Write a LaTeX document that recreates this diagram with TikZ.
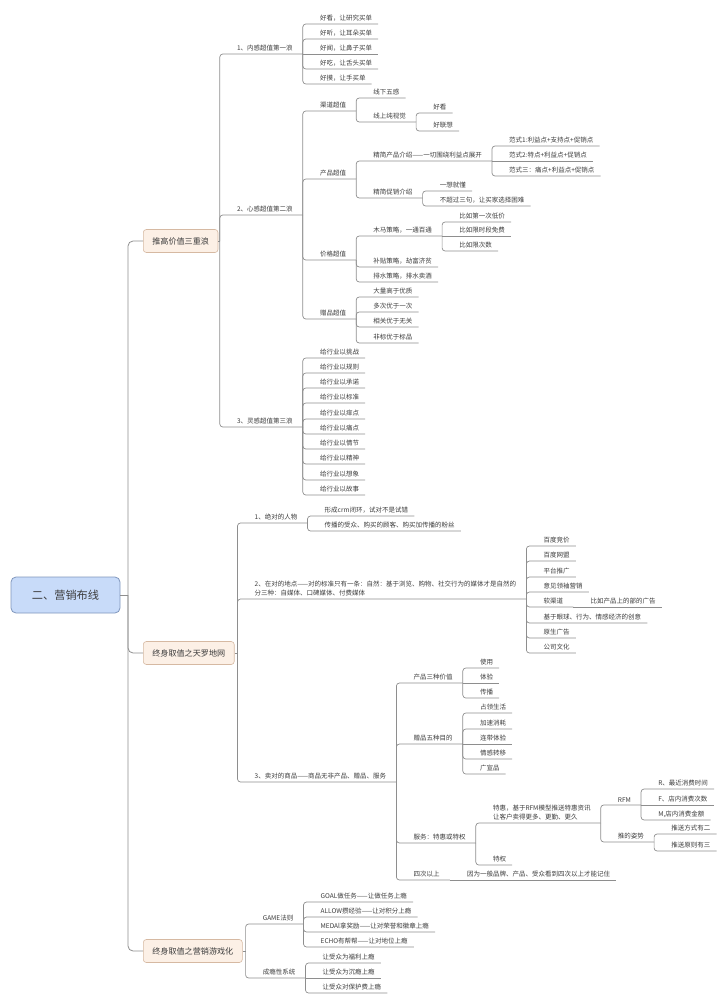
\documentclass[tikz,border=0pt]{standalone}
\usepackage{fontspec}
\setmainfont{Noto Sans CJK SC}
\definecolor{txt}{HTML}{3C3C3C}
\definecolor{ln}{HTML}{8E8E8E}
\definecolor{rootfill}{HTML}{C8DBF9}
\definecolor{rootdraw}{HTML}{7F96BC}
\definecolor{lfill}{HTML}{FCF0E6}
\definecolor{ldraw}{HTML}{D6B9A2}
\tikzset{
  nodebase/.style={anchor=south west, inner xsep=0pt, inner ysep=2.4pt,
    font=\fontsize{6.5}{9}\selectfont, text=txt,
    execute at begin node={\hspace*{17pt}}},
  leaf/.style={nodebase, execute at end node={\hspace*{6pt}}},
  par/.style={nodebase, execute at end node={\hspace*{10pt}}},
  conn/.style={draw=ln, line width=0.7pt, rounded corners=3pt},
  trunk/.style={draw=ln, line width=0.8pt, rounded corners=5pt},
  rootbox/.style={draw=rootdraw, fill=rootfill, line width=0.8pt, rounded corners=5pt,
    minimum width=109pt, minimum height=36pt, font=\fontsize{11.2}{13}\selectfont, text=txt},
  topic/.style={anchor=west, draw=ldraw, fill=lfill, line width=0.6pt, rounded corners=3pt,
    minimum height=23pt, inner xsep=9pt, font=\fontsize{8.1}{10}\selectfont, text=txt}
}
\begin{document}
\begin{tikzpicture}[x=1pt,y=-1pt]
\useasboundingbox (0,0) rectangle (720,1003);

% root and main topics
\node[rootbox] (R) at (65.5,595) {二、营销布线};
\node[topic] (A) at (143,241) {推高价值三重浪};
\node[topic] (B) at (143,653) {终身取值之天罗地网};
\node[topic] (C) at (143,951) {终身取值之营销游戏化};
\coordinate (Rv) at (128,595);
\draw[trunk] (R.east) -- (Rv);
\draw[trunk] (Rv) |- (A.west);
\draw[trunk] (Rv) |- (B.west);
\draw[trunk] (Rv) |- (C.west);

% ---------------- branch A
\coordinate (Av) at ([xshift=1.5pt]A.east);
\draw[conn] (A.east) -- (Av);
\node[par] (a1) at (Av |- 0,54) {1、内感超值第一浪};
\node[par] (a2) at (Av |- 0,215) {2、心感超值第二浪};
\node[par] (a3) at (Av |- 0,427) {3、灵感超值第三浪};
\foreach \n in {a1,a2,a3} \draw[conn] (Av) |- (\n.south east);

% a1
\node[leaf] (a1c1) at (a1.south east |- 0,24) {好看，让研究买单};
\node[leaf] (a1c2) at (a1.south east |- 0,39) {好听，让耳朵买单};
\node[leaf] (a1c3) at (a1.south east |- 0,54) {好闻，让鼻子买单};
\node[leaf] (a1c4) at (a1.south east |- 0,69) {好吃，让舌头买单};
\node[leaf] (a1c5) at (a1.south east |- 0,84) {好摸，让手买单};
\foreach \n in {a1c1,a1c2,a1c4,a1c5} \draw[conn] (a1.south east) |- (\n.south east);
\draw[conn] (a1.south east) -- (a1c3.south east);

% a2
\node[par] (b1) at (a2.south east |- 0,111) {渠道超值};
\node[par] (b2) at (a2.south east |- 0,179) {产品超值};
\node[par] (b3) at (a2.south east |- 0,260) {价格超值};
\node[par] (b4) at (a2.south east |- 0,319) {赠品超值};
\foreach \n in {b1,b2,b3,b4} \draw[conn] (a2.south east) |- (\n.south east);

\node[leaf] (b1c1) at (b1.south east |- 0,98) {线下五感};
\node[par] (b1c2) at (b1.south east |- 0,122) {线上纯视觉};
\foreach \n in {b1c1,b1c2} \draw[conn] (b1.south east) |- (\n.south east);
\node[leaf] (b1c2a) at (b1c2.south east |- 0,113) {好看};
\node[leaf] (b1c2b) at (b1c2.south east |- 0,131) {好联想};
\foreach \n in {b1c2a,b1c2b} \draw[conn] (b1c2.south east) |- (\n.south east);

\node[par] (b2c1) at (b2.south east |- 0,161) {精简产品介绍——一切围绕利益点展开};
\node[par] (b2c2) at (b2.south east |- 0,198) {精简促销介绍};
\foreach \n in {b2c1,b2c2} \draw[conn] (b2.south east) |- (\n.south east);
\node[leaf] (f1) at (b2c1.south east |- 0,146) {范式1:利益点+支持点+促销点};
\node[leaf] (f2) at (b2c1.south east |- 0,161) {范式2:特点+利益点+促销点};
\node[leaf] (f3) at (b2c1.south east |- 0,176) {范式三：痛点+利益点+促销点};
\draw[conn] (b2c1.south east) |- (f1.south east);
\draw[conn] (b2c1.south east) -- (f2.south east);
\draw[conn] (b2c1.south east) |- (f3.south east);
\node[leaf] (p1) at (b2c2.south east |- 0,191) {一想就懂};
\node[leaf] (p2) at (b2c2.south east |- 0,206) {不超过三句，让买家选择困难};
\foreach \n in {p1,p2} \draw[conn] (b2c2.south east) |- (\n.south east);

\node[par] (b3c1) at (b3.south east |- 0,236) {木马策略，一通百通};
\node[leaf] (b3c2) at (b3.south east |- 0,267) {补贴策略，劫富济贫};
\node[leaf] (b3c3) at (b3.south east |- 0,282) {排水策略，排水卖酒};
\foreach \n in {b3c1,b3c2,b3c3} \draw[conn] (b3.south east) |- (\n.south east);
\node[leaf] (m1) at (b3c1.south east |- 0,222) {比如第一次低价};
\node[leaf] (m2) at (b3c1.south east |- 0,236) {比如限时段免费};
\node[leaf] (m3) at (b3c1.south east |- 0,251) {比如限次数};
\draw[conn] (b3c1.south east) |- (m1.south east);
\draw[conn] (b3c1.south east) -- (m2.south east);
\draw[conn] (b3c1.south east) |- (m3.south east);

\node[leaf] (b4c1) at (b4.south east |- 0,297) {大量高于优质};
\node[leaf] (b4c2) at (b4.south east |- 0,312) {多次优于一次};
\node[leaf] (b4c3) at (b4.south east |- 0,327) {相关优于无关};
\node[leaf] (b4c4) at (b4.south east |- 0,343) {非标优于标品};
\foreach \n in {b4c1,b4c2,b4c3,b4c4} \draw[conn] (b4.south east) |- (\n.south east);

% a3
\node[leaf] (g1) at (a3.south east |- 0,358) {给行业以挑战};
\node[leaf] (g2) at (a3.south east |- 0,373) {给行业以规则};
\node[leaf] (g3) at (a3.south east |- 0,388) {给行业以承诺};
\node[leaf] (g4) at (a3.south east |- 0,403) {给行业以标准};
\node[leaf] (g5) at (a3.south east |- 0,419) {给行业以痒点};
\node[leaf] (g6) at (a3.south east |- 0,434) {给行业以痛点};
\node[leaf] (g7) at (a3.south east |- 0,449) {给行业以情节};
\node[leaf] (g8) at (a3.south east |- 0,464) {给行业以精神};
\node[leaf] (g9) at (a3.south east |- 0,480) {给行业以想象};
\node[leaf] (g10) at (a3.south east |- 0,495) {给行业以故事};
\foreach \n in {g1,g2,g3,g4,g5,g6,g7,g8,g9,g10} \draw[conn] (a3.south east) |- (\n.south east);

% ---------------- branch B
\coordinate (Bv) at ([xshift=3pt]B.east);
\draw[conn] (B.east) -- (Bv);
\node[par] (d1) at (Bv |- 0,523) {1、绝对的人物};
\node[par, inner ysep=0.5pt] (d2) at (Bv |- 0,599) {\begin{tabular}{@{}l@{}}2、在对的地点——对的标准只有一条：自然：基于浏览、购物、社交行为的媒体才是自然的\\分三种：自媒体、口碑媒体、付费媒体\end{tabular}};
\node[par] (d3) at (Bv |- 0,782) {3、卖对的商品——商品无非产品、赠品、服务};
\foreach \n in {d1,d2,d3} \draw[conn] (Bv) |- (\n.south east);

\node[leaf] (d1c1) at (d1.south east |- 0,516) {形成crm闭环，试对不是试错};
\node[leaf] (d1c2) at (d1.south east |- 0,531) {传播的受众、购买的顾客、购买加传播的粉丝};
\foreach \n in {d1c1,d1c2} \draw[conn] (d1.south east) |- (\n.south east);

\node[leaf] (h1) at (d2.south east |- 0,546) {百度竞价};
\node[leaf] (h2) at (d2.south east |- 0,561) {百度网盟};
\node[leaf] (h3) at (d2.south east |- 0,577) {平台推广};
\node[leaf] (h4) at (d2.south east |- 0,592) {意见领袖营销};
\node[par] (h5) at (d2.south east |- 0,607) {软渠道};
\node[leaf] (h6) at (d2.south east |- 0,623) {基于眼球、行为、情感经济的创意};
\node[leaf] (h7) at (d2.south east |- 0,638) {原生广告};
\node[leaf] (h8) at (d2.south east |- 0,653) {公司文化};
\foreach \n in {h1,h2,h3,h4,h5,h6,h7,h8} \draw[conn] (d2.south east) |- (\n.south east);
\node[leaf] (h5a) at (h5.south east) {比如产品上的部的广告};
\draw[conn] (h5.south east) -- (h5a.south east);

\node[par] (k1) at (d3.south east |- 0,683) {产品三种价值};
\node[par] (k2) at (d3.south east |- 0,744) {赠品五种目的};
\node[par] (k3) at (d3.south east |- 0,843) {服务：特惠或特权};
\node[par] (k4) at (d3.south east |- 0,880) {四次以上};
\foreach \n in {k1,k2,k3,k4} \draw[conn] (d3.south east) |- (\n.south east);

\node[leaf] (k1a) at (k1.south east |- 0,668) {使用};
\node[leaf] (k1b) at (k1.south east |- 0,683) {体验};
\node[leaf] (k1c) at (k1.south east |- 0,698) {传播};
\draw[conn] (k1.south east) |- (k1a.south east);
\draw[conn] (k1.south east) -- (k1b.south east);
\draw[conn] (k1.south east) |- (k1c.south east);

\node[leaf] (k2a) at (k2.south east |- 0,713) {占领生活};
\node[leaf] (k2b) at (k2.south east |- 0,729) {加速消耗};
\node[leaf] (k2c) at (k2.south east |- 0,744) {连带体验};
\node[leaf] (k2d) at (k2.south east |- 0,759) {情感转移};
\node[leaf] (k2e) at (k2.south east |- 0,774) {广宣品};
\foreach \n in {k2a,k2b,k2d,k2e} \draw[conn] (k2.south east) |- (\n.south east);
\draw[conn] (k2.south east) -- (k2c.south east);

\node[par, inner ysep=0.5pt] (k3a) at (k3.south east |- 0,823) {\begin{tabular}{@{}l@{}}特惠，基于RFM模型推送特惠资讯\\让客户卖得更多、更勤、更久\end{tabular}};
\node[leaf] (k3b) at (k3.south east |- 0,865) {特权};
\foreach \n in {k3a,k3b} \draw[conn] (k3.south east) |- (\n.south east);

\node[par] (r1) at (k3a.south east |- 0,805) {RFM};
\node[par] (r2) at (k3a.south east |- 0,842) {推的姿势};
\foreach \n in {r1,r2} \draw[conn] (k3a.south east) |- (\n.south east);
\node[leaf] (r1a) at (r1.south east |- 0,789) {R、最近消费时间};
\node[leaf] (r1b) at (r1.south east |- 0,805) {F、店内消费次数};
\node[leaf] (r1c) at (r1.south east |- 0,820) {M,店内消费金额};
\draw[conn] (r1.south east) |- (r1a.south east);
\draw[conn] (r1.south east) -- (r1b.south east);
\draw[conn] (r1.south east) |- (r1c.south east);
\node[leaf] (r2a) at (r2.south east |- 0,834) {推送方式有二};
\node[leaf] (r2b) at (r2.south east |- 0,851) {推送原则有三};
\foreach \n in {r2a,r2b} \draw[conn] (r2.south east) |- (\n.south east);

\node[leaf] (k4a) at (k4.south east) {因为一般品牌、产品、受众看到四次以上才能记住};
\draw[conn] (k4.south east) -- (k4a.south east);

% ---------------- branch C
\coordinate (Cv) at ([xshift=3pt]C.east);
\draw[conn] (C.east) -- (Cv);
\node[par] (e1) at (Cv |- 0,924) {GAME法则};
\node[par] (e2) at (Cv |- 0,978) {成瘾性系统};
\foreach \n in {e1,e2} \draw[conn] (Cv) |- (\n.south east);

\node[leaf] (e1a) at (e1.south east |- 0,902) {GOAL做任务——让做任务上瘾};
\node[leaf] (e1b) at (e1.south east |- 0,917) {ALLOW攒经验——让对积分上瘾};
\node[leaf] (e1c) at (e1.south east |- 0,932) {MEDAl拿奖励——让对荣誉和徽章上瘾};
\node[leaf] (e1d) at (e1.south east |- 0,947) {ECHO有帮帮——让对地位上瘾};
\foreach \n in {e1a,e1b,e1c,e1d} \draw[conn] (e1.south east) |- (\n.south east);

\node[leaf] (e2a) at (e2.south east |- 0,963) {让受众为福利上瘾};
\node[leaf] (e2b) at (e2.south east |- 0,978) {让受众为沉瘾上瘾};
\node[leaf] (e2c) at (e2.south east |- 0,993) {让受众对保护费上瘾};
\draw[conn] (e2.south east) |- (e2a.south east);
\draw[conn] (e2.south east) -- (e2b.south east);
\draw[conn] (e2.south east) |- (e2c.south east);
\end{tikzpicture}
\end{document}
